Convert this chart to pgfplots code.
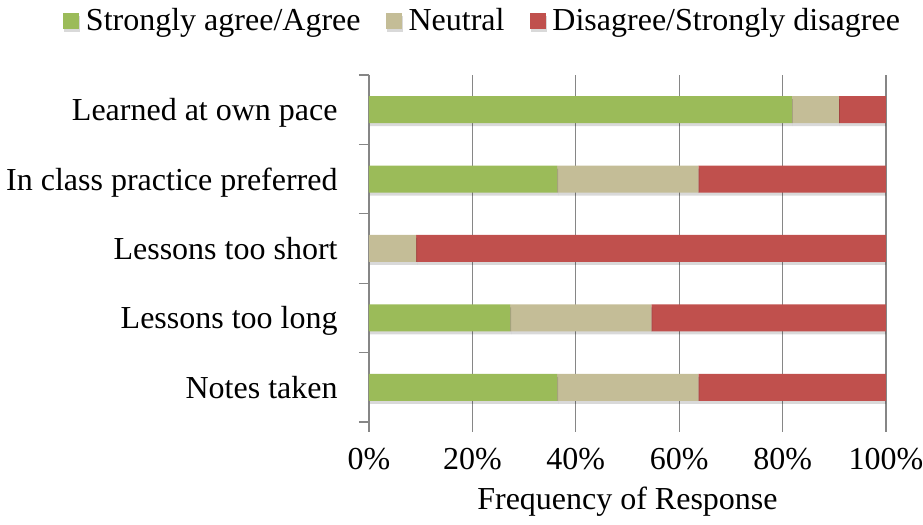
\documentclass[border=0pt]{standalone}
\usepackage{pgfplots}
\pgfplotsset{compat=1.18}
\usetikzlibrary{shadows}
\usepackage{fontspec}
\setmainfont{Liberation Serif}
\definecolor{cgreen}{HTML}{9BBB59}
\definecolor{ctan}{HTML}{C4BD97}
\definecolor{cred}{HTML}{C0504D}
\definecolor{gridgray}{RGB}{134,134,134}
\begin{document}
\fontsize{16pt}{19pt}\selectfont
\begin{tikzpicture}
\useasboundingbox (-184.5pt,-51.5pt) rectangle (277pt,211pt);
\begin{axis}[
  at={(0,0)}, anchor=south west,
  xbar stacked, bar width=13.5pt,
  scale only axis, width=258.5pt, height=173.5pt,
  xmin=0, xmax=100, ymin=-0.5, ymax=4.5,
  axis x line*=bottom, axis y line*=left,
  x axis line style={draw=none},
  y axis line style={draw=gridgray, line width=0.75pt, -},
  tick align=outside, major tick length=5pt,
  tick style={draw=gridgray, line width=0.6pt},
  xtick={0,20,...,100},
  /pgf/number format/assume math mode=true,
  xticklabel={\pgfmathprintnumber{\tick}\%},
  xticklabel style={anchor=base, inner sep=0pt, yshift=-19pt},
  xmajorgrids, grid style={gridgray, line width=0.6pt},
  ytick={-0.5,0.5,...,4.5}, yticklabels={,,,,,},
  extra y ticks={0,1,2,3,4},
  extra y tick labels={Notes taken, Lessons too long, Lessons too short, In class practice preferred, Learned at own pace},
  extra y tick style={major tick length=0pt, yticklabel style={anchor=base east, inner sep=0pt, xshift=-15.5pt, yshift=-5.5pt}},
  xlabel={Frequency of Response},
  every axis x label/.style={at={(axis description cs:0.5,0)}, anchor=base, yshift=-44pt, inner sep=0pt},
  legend columns=3,
  legend image code/.code={\fill[#1] (0pt,-3.7pt) rectangle (8pt,4.3pt);},
  legend style={draw=none, fill=none, at={(0,1)}, anchor=west, xshift=-153.2pt, yshift=26.7pt, inner sep=0pt,
    nodes={inner sep=0pt},
    /tikz/every odd column/.append style={column sep=3.5pt},
    /tikz/every even column/.append style={column sep=12.5pt}},
  barshadow/.style={drop shadow={shadow xshift=0.5pt, shadow yshift=-1.5pt, fill=black, opacity=0.15}},
]
\addplot[fill=cgreen, draw=none, barshadow] coordinates {(36.4,0) (27.3,1) (0,2) (36.4,3) (81.8,4)};
\addplot[fill=ctan, draw=none, barshadow] coordinates {(27.3,0) (27.3,1) (9.1,2) (27.3,3) (9.1,4)};
\addplot[fill=cred, draw=none, barshadow] coordinates {(36.4,0) (45.5,1) (90.9,2) (36.4,3) (9.1,4)};
\legend{Strongly agree/Agree, Neutral, Disagree/Strongly disagree}
\end{axis}
\end{tikzpicture}
\end{document}
